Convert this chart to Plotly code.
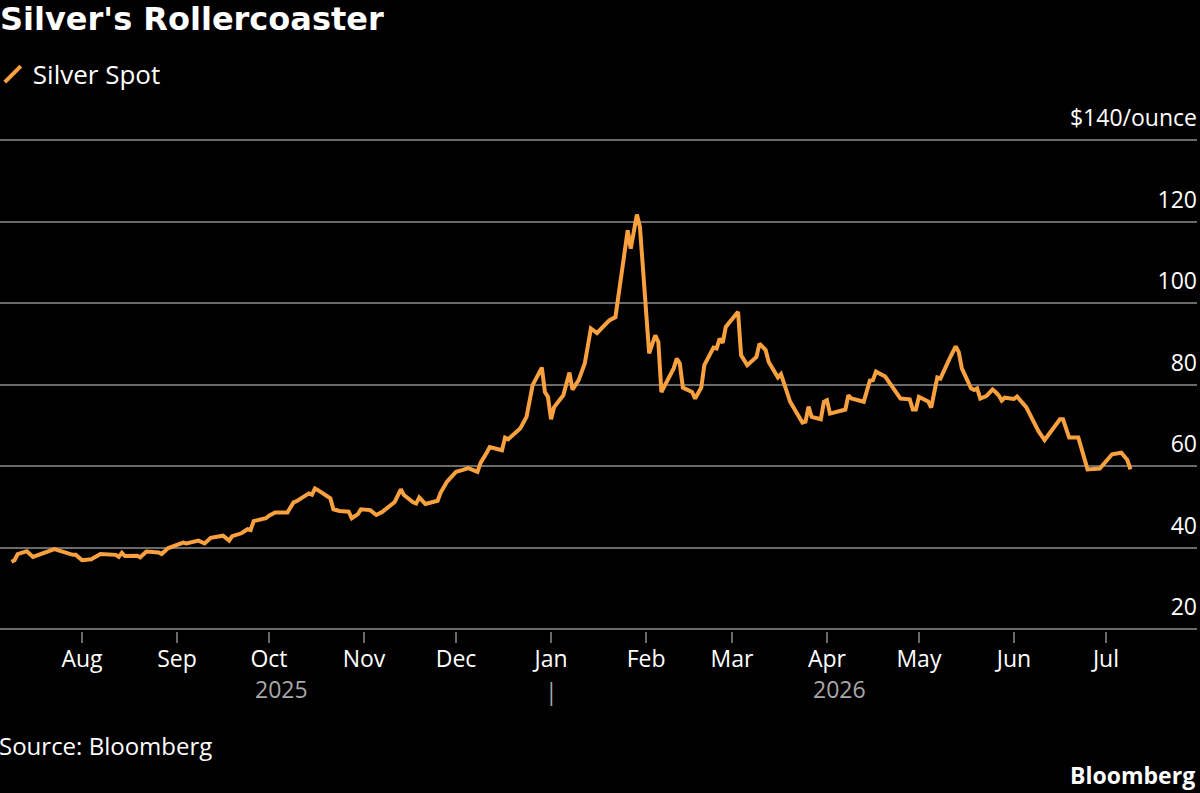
import plotly.graph_objects as go

# ---- data ----
dates = [
    "2025-07-09", "2025-07-10", "2025-07-11", "2025-07-14", "2025-07-16", "2025-07-23",
    "2025-07-29", "2025-07-30", "2025-08-01", "2025-08-04", "2025-08-07", "2025-08-12",
    "2025-08-13", "2025-08-14", "2025-08-15", "2025-08-19", "2025-08-20", "2025-08-22",
    "2025-08-26", "2025-08-27", "2025-08-29", "2025-09-03", "2025-09-04", "2025-09-08",
    "2025-09-10", "2025-09-12", "2025-09-16", "2025-09-18", "2025-09-19", "2025-09-22",
    "2025-09-24", "2025-09-25", "2025-09-26", "2025-09-30", "2025-10-01", "2025-10-03",
    "2025-10-07", "2025-10-09", "2025-10-10", "2025-10-13", "2025-10-14", "2025-10-15",
    "2025-10-16", "2025-10-17", "2025-10-20", "2025-10-21", "2025-10-22", "2025-10-24",
    "2025-10-27", "2025-10-28", "2025-10-30", "2025-10-31", "2025-11-03", "2025-11-05",
    "2025-11-07", "2025-11-10", "2025-11-11", "2025-11-13", "2025-11-14", "2025-11-17",
    "2025-11-18", "2025-11-19", "2025-11-21", "2025-11-25", "2025-11-26", "2025-11-28",
    "2025-12-01", "2025-12-03", "2025-12-05", "2025-12-08", "2025-12-09", "2025-12-11",
    "2025-12-12", "2025-12-16", "2025-12-17", "2025-12-18", "2025-12-22", "2025-12-24",
    "2025-12-26", "2025-12-29", "2025-12-30", "2025-12-31", "2026-01-01", "2026-01-02",
    "2026-01-05", "2026-01-07", "2026-01-08", "2026-01-10", "2026-01-12", "2026-01-14",
    "2026-01-16", "2026-01-20", "2026-01-21", "2026-01-22", "2026-01-26", "2026-01-27",
    "2026-01-29", "2026-01-30", "2026-02-02", "2026-02-04", "2026-02-05", "2026-02-06",
    "2026-02-10", "2026-02-11", "2026-02-12", "2026-02-13", "2026-02-16", "2026-02-17",
    "2026-02-19", "2026-02-20", "2026-02-23", "2026-02-24", "2026-02-25", "2026-02-26",
    "2026-02-27", "2026-03-03", "2026-03-04", "2026-03-06", "2026-03-09", "2026-03-10",
    "2026-03-12", "2026-03-13", "2026-03-16", "2026-03-17", "2026-03-20", "2026-03-24",
    "2026-03-25", "2026-03-26", "2026-03-27", "2026-03-30", "2026-03-31", "2026-04-01",
    "2026-04-02", "2026-04-07", "2026-04-08", "2026-04-09", "2026-04-13", "2026-04-15",
    "2026-04-16", "2026-04-17", "2026-04-20", "2026-04-22", "2026-04-24", "2026-04-25",
    "2026-04-28", "2026-04-29", "2026-04-30", "2026-05-01", "2026-05-04", "2026-05-05",
    "2026-05-07", "2026-05-08", "2026-05-11", "2026-05-13", "2026-05-14", "2026-05-15",
    "2026-05-18", "2026-05-19", "2026-05-20", "2026-05-21", "2026-05-23", "2026-05-25",
    "2026-05-26", "2026-05-27", "2026-05-28", "2026-05-29", "2026-06-01", "2026-06-02",
    "2026-06-05", "2026-06-08", "2026-06-09", "2026-06-11", "2026-06-16", "2026-06-17",
    "2026-06-19", "2026-06-22", "2026-06-25", "2026-06-29", "2026-07-03", "2026-07-06",
    "2026-07-08", "2026-07-09",
]
silver_spot = [
    36.5, 36.9, 38.4, 39.1, 37.7, 39.6,
    38.2, 38.2, 36.9, 37.1, 38.4, 38.2,
    37.7, 38.7, 37.9, 38.0, 37.6, 39.0,
    38.8, 38.4, 39.8, 41.2, 41.0, 41.7,
    41.0, 42.4, 42.9, 41.7, 42.8, 43.5,
    44.5, 44.3, 46.5, 47.2, 47.8, 48.6,
    48.6, 51.1, 51.4, 52.9, 53.3, 53.0,
    54.5, 54.1, 52.6, 52.1, 49.4, 49.0,
    48.8, 47.2, 48.2, 49.4, 49.2, 48.0,
    48.8, 50.6, 51.2, 54.3, 52.9, 51.1,
    50.8, 52.3, 50.7, 51.5, 53.5, 56.1,
    58.6, 59.0, 59.5, 58.6, 60.8, 63.3,
    64.7, 63.9, 67.0, 66.6, 69.3, 72.1,
    79.9, 84.2, 78.2, 77.0, 71.5, 74.5,
    77.4, 83.0, 78.8, 81.1, 85.2, 93.8,
    92.7, 95.8, 96.2, 96.6, 117.9, 113.4,
    121.8, 118.7, 87.7, 92.1, 90.5, 78.2,
    84.0, 86.4, 85.2, 79.3, 78.2, 76.6,
    79.3, 84.8, 89.1, 88.9, 91.3, 90.3,
    94.2, 97.9, 87.2, 84.8, 86.8, 90.1,
    88.5, 85.6, 81.8, 82.6, 75.8, 70.7,
    70.9, 74.6, 72.1, 71.5, 75.8, 76.2,
    72.9, 73.9, 77.4, 76.6, 75.8, 81.0,
    81.1, 83.2, 82.0, 79.9, 77.7, 76.6,
    76.4, 73.9, 73.9, 77.0, 75.9, 74.4,
    81.8, 81.5, 86.4, 89.4, 88.0, 84.0,
    79.1, 78.7, 79.1, 76.6, 77.2, 78.8,
    78.2, 77.4, 76.1, 76.8, 76.5, 77.1,
    74.5, 70.0, 68.6, 66.4, 71.5, 71.5,
    67.0, 67.0, 59.2, 59.4, 62.9, 63.3,
    61.5, 59.2,
]

month_ticks = ["2025-08-01", "2025-09-01", "2025-10-01", "2025-11-01", "2025-12-01",
               "2026-01-01", "2026-02-01", "2026-03-01", "2026-04-01", "2026-05-01",
               "2026-06-01", "2026-07-01"]
month_labels = ["Aug", "Sep", "Oct", "Nov", "Dec", "Jan", "Feb", "Mar", "Apr", "May",
                "Jun", "Jul"]
y_ticks = [20, 40, 60, 80, 100, 120, 140]
y_labels = ["20", "40", "60", "80", "100", "120", "$140/ounce"]
year_labels = ["2025", "2026"]
year_label_pos = ["2025-10-05", "2026-04-05"]
year_break = "2026-01-01"

ORANGE = "#F9A03F"
GRID = "#6a6a6a"
FONT = "Open Sans"

fig = go.Figure()
fig.add_trace(go.Scatter(
    x=dates, y=silver_spot, mode="lines",
    line=dict(color=ORANGE, width=4),
    showlegend=False, hoverinfo="skip",
))
# legend entry with a slanted-line icon
fig.add_trace(go.Scatter(
    x=[None], y=[None], mode="markers", name="Silver Spot",
    marker=dict(symbol="line-ne", size=16, line=dict(width=4, color=ORANGE)),
))

fig.update_layout(
    width=1200, height=793,
    paper_bgcolor="black", plot_bgcolor="black",
    margin=dict(l=0, r=3, t=116, b=162, autoexpand=False),
    font=dict(family=FONT, color="white", size=23),
    title=dict(text="<b>Silver's Rollercoaster</b>",
               font=dict(family="DejaVu Sans", size=32, color="white"),
               x=0, xanchor="left", xref="paper",
               y=1, yref="container", yanchor="top", pad=dict(t=8, l=0)),
    legend=dict(x=-0.006, xanchor="left", y=1.081, yanchor="middle",
                font=dict(size=26, family=FONT, color="white"),
                bgcolor="rgba(0,0,0,0)", itemwidth=30),
    showlegend=True,
)

fig.update_xaxes(
    range=["2025-07-05 06:00", "2026-07-30 17:00"],
    tickvals=month_ticks, ticktext=month_labels,
    ticks="outside", ticklen=11, tickwidth=1.5, tickcolor=GRID,
    showgrid=False, zeroline=False,
    showline=False,
    tickfont=dict(size=23, color="white", family=FONT),
    ticklabelstandoff=-4,
)
fig.update_yaxes(
    range=[19.5, 146], anchor="free", position=1, side="left",
    tickvals=y_ticks, ticktext=y_labels,
    ticklabelposition="outside",
    showgrid=True, gridcolor=GRID, gridwidth=1.5,
    zeroline=False, showline=False, ticks="",
    tickfont=dict(size=23, color="white", family=FONT),
    ticklabelshift=-22, ticklabelstandoff=0,
)

annotations = []
for label, pos in zip(year_labels, year_label_pos):
    annotations.append(dict(x=pos, xref="x", y=-0.113, yref="paper", text=label,
                            showarrow=False, xanchor="center", yanchor="middle",
                            font=dict(size=23, color="#a8a8a8", family=FONT)))
annotations.append(dict(x=year_break, xref="x", y=-0.117, yref="paper", text="|",
                        showarrow=False, xanchor="center", yanchor="middle",
                        font=dict(size=23, color="#a8a8a8", family=FONT)))
annotations.append(dict(x=0, xref="paper", y=-0.223, yref="paper",
                        text="Source: Bloomberg", showarrow=False,
                        xanchor="left", yanchor="middle", xshift=-3,
                        font=dict(size=24, color="white", family=FONT)))
annotations.append(dict(x=1.0, xref="paper", y=-0.28, yref="paper",
                        text="<b>Bloomberg</b>", showarrow=False,
                        xanchor="right", yanchor="middle",
                        font=dict(size=23, color="white", family=FONT)))
fig.update_layout(annotations=annotations)

fig.write_html("out.html")
